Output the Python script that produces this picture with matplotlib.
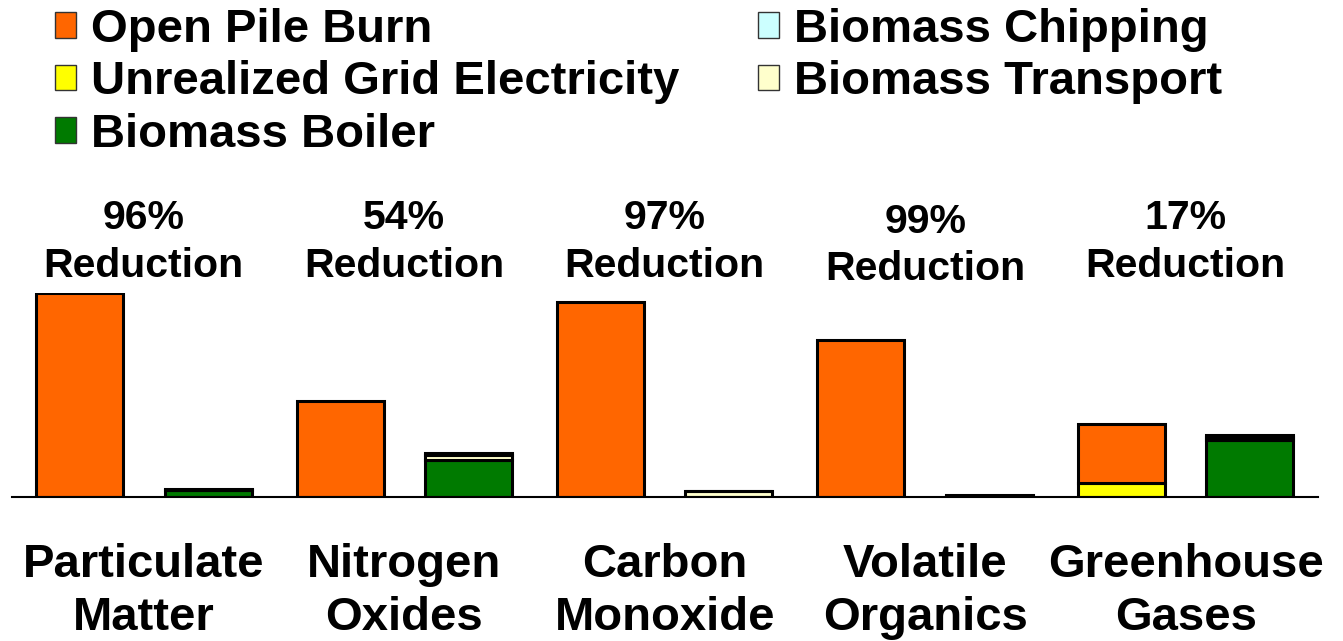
import numpy as np
import matplotlib
matplotlib.use('Agg')
from matplotlib import pyplot as plt
from matplotlib.patches import Patch

plt.rcParams['font.family'] = ['Liberation Sans', 'DejaVu Sans']
plt.rcParams['font.weight'] = 'bold'

# relative emissions, open pile burn PM = 100
categories = ['Particulate\nMatter', 'Nitrogen\nOxides', 'Carbon\nMonoxide',
              'Volatile\nOrganics', 'Greenhouse\nGases']
reductions = ['96%', '54%', '97%', '99%', '17%']
open_pile = [100, 47, 95.6, 77, 28.9]
grid_elec = [0, 0, 0, 0, 6.9]
boiler = [3.3, 18.3, 0.2, 0.4, 28.0]
transport = [0.3, 2.5, 2.5, 0.2, 1.6]
chipping = [0.3, 0.8, 0.2, 0.2, 0.8]

c_open = '#FF6600'
c_grid = '#FFFF00'
c_boiler = '#007A00'
c_chip = '#CCFFFF'
c_trans = '#FFFFCC'

fig = plt.figure(figsize=(13.43, 6.41), dpi=100)
ax = fig.add_axes([12/1343, 144/641, 1306/1343, 204/641])

x = np.arange(len(categories))
off = 0.2466
w = 0.334
kw = dict(width=w, edgecolor='black', linewidth=2.2)

ax.bar(x - off, grid_elec, color=c_grid, **kw)
ax.bar(x - off, open_pile, bottom=grid_elec, color=c_open, **kw)
ax.bar(x + off, boiler, color=c_boiler, **kw)
b2 = np.array(boiler) + np.array(transport)
ax.bar(x + off, transport, bottom=boiler, color=c_trans, **kw)
ax.bar(x + off, chipping, bottom=b2, color=c_chip, **kw)

ax.set_xlim(-0.506, 4.508)
ax.set_ylim(0, 100)
for s in ['top', 'right', 'left']:
    ax.spines[s].set_visible(False)
ax.spines['bottom'].set_linewidth(1.5)
ax.set_xticks([])
ax.set_yticks([])

for i in range(len(categories)):
    dy = -1.5 if i == 3 else 0
    ax.text(x[i], 103.9 + dy, reductions[i] + '\nReduction', ha='center', va='bottom',
            fontsize=29.5, fontweight='bold', linespacing=1.32, clip_on=False)
    ax.text(x[i], -22.5, categories[i], ha='center', va='top',
            fontsize=34, fontweight='bold', linespacing=1.28, clip_on=False)

handles = [Patch(facecolor=c_open, edgecolor='#333333'),
           Patch(facecolor=c_grid, edgecolor='#333333'),
           Patch(facecolor=c_boiler, edgecolor='#333333'),
           Patch(facecolor=c_chip, edgecolor='#333333'),
           Patch(facecolor=c_trans, edgecolor='#333333')]
labels = ['Open Pile Burn', 'Unrealized Grid Electricity', 'Biomass Boiler',
          'Biomass Chipping', 'Biomass Transport']
fig.legend(handles, labels, loc='upper left', bbox_to_anchor=(55/1343, 1 - 8/641),
           ncol=2, frameon=False, prop={'weight': 'bold', 'size': 34},
           handlelength=0.45, handleheight=0.45, handletextpad=0.32,
           columnspacing=1.66, labelspacing=0.18, borderpad=0, borderaxespad=0)

plt.savefig('out.png', dpi=100)
